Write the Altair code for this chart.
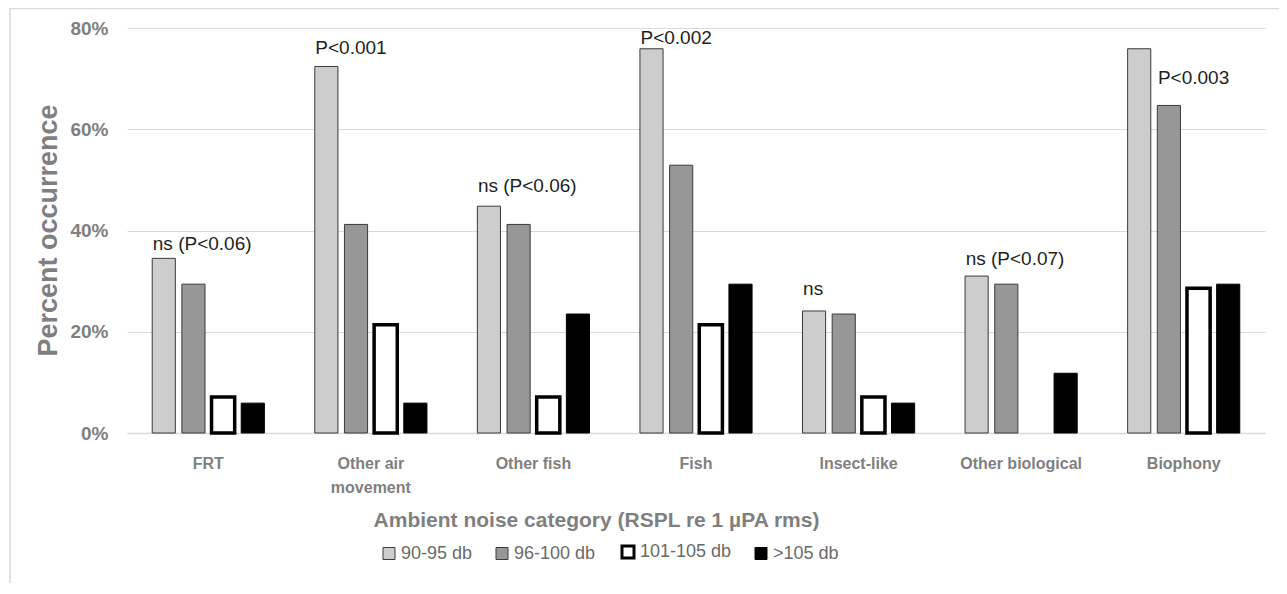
import altair as alt
import pandas as pd

categories = ["FRT", "Other air movement", "Other fish", "Fish", "Insect-like", "Other biological", "Biophony"]
series = ["90-95 db", "96-100 db", "101-105 db", ">105 db"]

v_90_95 = [34.5, 72.4, 44.8, 75.9, 24.1, 31.0, 75.9]
v_96_100 = [29.4, 41.2, 41.2, 52.9, 23.5, 29.4, 64.7]
v_101_105 = [7.1, 21.4, 7.1, 21.4, 7.1, 0.0, 28.6]
v_gt105 = [5.9, 5.9, 23.5, 29.4, 5.9, 11.8, 29.4]

ann_text = ["ns (P<0.06)", "P<0.001", "ns (P<0.06)", "P<0.002", "ns", "ns (P<0.07)", "P<0.003"]
ann_anchor = ["90-95 db", "90-95 db", "90-95 db", "90-95 db", "90-95 db", "90-95 db", "96-100 db"]
ann_y = [36.1, 74.8, 47.7, 76.8, 27.3, 33.2, 68.9]

fills = ["#cdcdcd", "#979797", "#ffffff", "#000000"]
strokes = ["#3a3a3a", "#3a3a3a", "#000000", "#000000"]
stroke_widths = [1, 1, 3.5, 1]

rows = []
for vals, s, sw in zip([v_90_95, v_96_100, v_101_105, v_gt105], series, stroke_widths):
    for c, v in zip(categories, vals):
        if v > 0:
            rows.append({"category": c, "series": s, "value": v / 100, "sw": sw})
df = pd.DataFrame(rows)

ann = pd.DataFrame({"category": categories, "series": ann_anchor,
                    "value": [y / 100 for y in ann_y], "text": ann_text})

GRAY = "#7f7f7f"
FONT = "Liberation Sans, Arial, sans-serif"

x_scale = alt.Scale(domain=categories, paddingInner=0.27, paddingOuter=0.135)
xo_scale = alt.Scale(domain=series, paddingInner=0.22, paddingOuter=0.11)
y_scale = alt.Scale(domain=[0, 0.8])

x_enc = alt.X("category:N", scale=x_scale, sort=categories,
              axis=alt.Axis(title="Ambient noise category (RSPL re 1 µPA rms)",
                            labelAngle=0, labelFont=FONT, labelFontSize=16,
                            labelFontWeight="bold", labelColor=GRAY,
                            labelPadding=22, labelBaseline="top", labelLineHeight=24,
                            labelExpr="datum.label == 'Other air movement' ? ['Other air', 'movement'] : datum.label",
                            ticks=False, domainColor="#d9d9d9", domainWidth=1.5,
                            titleFont=FONT, titleFontSize=21, titleFontWeight="bold",
                            titleColor=GRAY, titleX=469, titleY=87,
                            titleBaseline="middle", titleAlign="center", titleAnchor="start"))
y_enc = alt.Y("value:Q", scale=y_scale,
              axis=alt.Axis(title="Percent occurrence", format=".0%",
                            values=[0, 0.2, 0.4, 0.6, 0.8], labelFontSize=19,
                            labelFontWeight="bold", labelColor=GRAY, labelFont=FONT,
                            labelPadding=19, ticks=False, tickSize=0, domain=False,
                            gridColor="#d9d9d9", gridWidth=1,
                            titleFont=FONT, titleFontSize=27, titleFontWeight="bold",
                            titleColor=GRAY, titleX=-79, titleY=202,
                            titleBaseline="middle", titleAlign="center", titleAngle=270))

legend = alt.Legend(title=None, orient="none", legendX=253, legendY=515, direction="horizontal",
                    symbolType="square", symbolSize=144, labelFont=FONT, labelFontSize=18,
                    labelColor="#6a6a6a", columnPadding=20, labelOffset=3, padding=0,
                    symbolStrokeWidth=alt.ExprRef("datum.label == '101-105 db' ? 3 : 1"))

bars = alt.Chart(df).mark_bar().encode(
    x=x_enc,
    xOffset=alt.XOffset("series:N", scale=xo_scale, sort=series),
    y=y_enc,
    fill=alt.Fill("series:N", scale=alt.Scale(domain=series, range=fills), legend=legend),
    stroke=alt.Stroke("series:N", scale=alt.Scale(domain=series, range=strokes), legend=legend),
    strokeWidth=alt.StrokeWidth("sw:Q", scale=None, legend=None),
)

labels = alt.Chart(ann).mark_text(align="left", baseline="alphabetic", dx=-11,
                                  font=FONT, fontSize=19, color="#1e1e1e").encode(
    x=alt.X("category:N", scale=x_scale, sort=categories),
    xOffset=alt.XOffset("series:N", scale=xo_scale, sort=series),
    y=alt.Y("value:Q", scale=y_scale),
    text="text:N",
)

frame = alt.Chart(pd.DataFrame({"a": [0]})).mark_rect(
    fill=None, stroke="#d9d9d9", strokeWidth=1.5).encode(
    x=alt.value(-117), x2=alt.value(1156), y=alt.value(-19.5), y2=alt.value(600))

chart = alt.layer(frame, bars, labels).properties(
    width=1138, height=405,
    autosize=alt.AutoSizeParams(type="none"),
    padding={"left": 119, "top": 20, "right": 14, "bottom": 150},
).configure_view(stroke=None)

chart.save("out.html", embed_options={"renderer": "svg", "actions": False})
